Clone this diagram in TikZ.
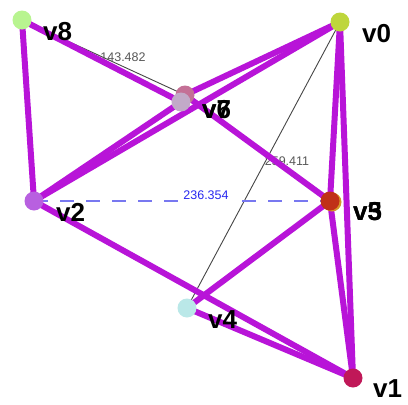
\documentclass[tikz,border=0pt]{standalone}
\usepackage{fontspec}
\setmainfont{Liberation Sans}
\begin{document}
\begin{tikzpicture}[x=1pt,y=-1pt,
  vert/.style={circle,minimum size=19pt,inner sep=0pt,draw=none},
  vlabel/.style={anchor=west,inner sep=0pt,font=\fontsize{26}{26}\selectfont\bfseries},
  edge/.style={draw=edgecol,line width=6pt},
  measure/.style={draw=measgray,line width=0.9pt},
  mlabel/.style={inner sep=1pt,font=\fontsize{12.5}{12.5}\selectfont}
]
\definecolor{edgecol}{RGB}{184,20,216}
\definecolor{measgray}{RGB}{70,70,70}
\definecolor{dashblue}{RGB}{120,120,240}
\definecolor{labblue}{RGB}{40,40,240}
\definecolor{c8}{RGB}{184,244,144}
\definecolor{c0}{RGB}{190,214,60}
\definecolor{c6}{RGB}{196,112,150}
\definecolor{c7}{RGB}{194,170,200}
\definecolor{c2}{RGB}{184,96,224}
\definecolor{c3}{RGB}{214,150,40}
\definecolor{c5}{RGB}{192,48,24}
\definecolor{c4}{RGB}{186,232,232}
\definecolor{c1}{RGB}{192,24,88}
\useasboundingbox[fill=white] (0,0) rectangle (408,405);

% coordinates of the vertices
\coordinate (p8) at (22,20);
\coordinate (p0) at (340,22);
\coordinate (p6) at (185,95);
\coordinate (p7) at (181,102);
\coordinate (p2) at (34,201);
\coordinate (p3) at (332,202);
\coordinate (p5) at (330,201);
\coordinate (p4) at (187,308);
\coordinate (p1) at (353,378);

% measurement lines and labels
\draw[measure] (p8) -- (p6);
\draw[measure] (p0) -- (p4);
\draw[dashblue,line width=1.4pt,dash pattern=on 14pt off 12pt] (p2) -- (p5);
\node[mlabel,text=measgray!90] (m1) at (123,57) {143.482};
\node[mlabel,text=measgray!90] (m2) at (287,161) {259.411};
\node[mlabel,text=labblue,fill=white,inner xsep=5pt,inner ysep=3.5pt] (m3) at (206,195) {236.354};

% edges
\draw[edge] (p8) -- (p2);
\draw[edge] (p8) -- (p7);
\draw[edge] (p6) -- (p5);
\draw[edge] (p0) -- (p6);
\draw[edge] (p0) -- (p2);
\draw[edge] (p2) -- (p7);
\draw[edge] (p0) -- (p5);
\draw[edge] (p0) -- (p1);
\draw[edge] (p5) -- (p1);
\draw[edge] (p5) -- (p4);
\draw[edge] (p2) -- (p1);
\draw[edge] (p4) -- (p1);

% vertices
\node[vert,fill=c8] (v8) at (p8) {};
\node[vert,fill=c0] (v0) at (p0) {};
\node[vert,fill=c6] (v6) at (p6) {};
\node[vert,fill=c7] (v7) at (p7) {};
\node[vert,fill=c2] (v2) at (p2) {};
\node[vert,fill=c3] (v3) at (p3) {};
\node[vert,fill=c5] (v5) at (p5) {};
\node[vert,fill=c4] (v4) at (p4) {};
\node[vert,fill=c1] (v1) at (p1) {};

% labels
\node[vlabel] (l8) at ([shift={(21,12)}]p8) {v8};
\node[vlabel] (l0) at ([shift={(22,12)}]p0) {v0};
\node[vlabel] (l6) at ([shift={(17,15)}]p6) {v6};
\node[vlabel] (l7) at ([shift={(21,8)}]p7) {v7};
\node[vlabel] (l2) at ([shift={(22,11)}]p2) {v2};
\node[vlabel] (l3) at ([shift={(21,10)}]p3) {v3};
\node[vlabel] (l5) at ([shift={(23,11)}]p5) {v5};
\node[vlabel] (l4) at ([shift={(21,12)}]p4) {v4};
\node[vlabel] (l1) at ([shift={(20,11)}]p1) {v1};
\end{tikzpicture}
\end{document}
